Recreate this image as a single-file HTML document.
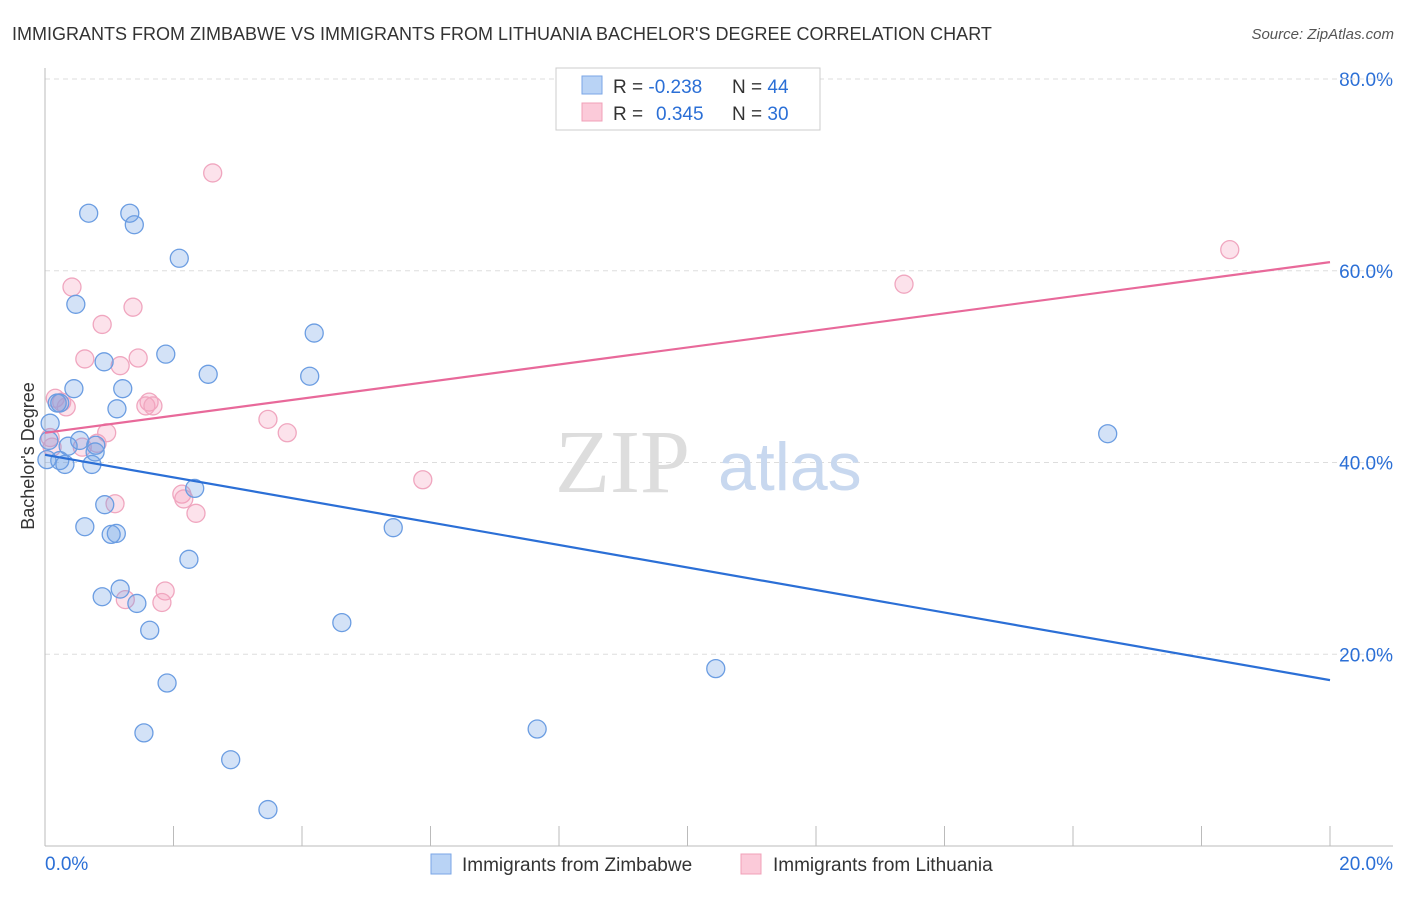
<!DOCTYPE html>
<html><head><meta charset="utf-8"><style>
body{margin:0;background:#fff;font-family:"Liberation Sans",sans-serif}
</style></head><body>
<svg width="1406" height="892" xmlns="http://www.w3.org/2000/svg" style="font-family:'Liberation Sans',sans-serif">
<text x="12" y="40" font-size="18" fill="#333">IMMIGRANTS FROM ZIMBABWE VS IMMIGRANTS FROM LITHUANIA BACHELOR'S DEGREE CORRELATION CHART</text>
<text x="1394" y="39" font-size="15" fill="#555" font-style="italic" text-anchor="end">Source: ZipAtlas.com</text>
<g id="grid"></g>
<g id="axes"></g>
<text x="555" y="492" font-size="90" fill="#ddd" font-family="Liberation Serif,serif">ZIP</text>
<text x="718" y="490" font-size="68" fill="#c8d8ef">atlas</text>
<g id="pts"></g>
<g id="lines"></g>
<text transform="translate(34,456) rotate(-90)" font-size="18" fill="#333" text-anchor="middle">Bachelor's Degree</text>
<g>
<rect x="556" y="68" width="264" height="62" fill="#fff" stroke="#ccc"/>
<rect x="582" y="76" width="20" height="18" fill="#b9d3f5" stroke="#7aa6e6"/>
<rect x="582" y="103" width="20" height="18" fill="#fbcad9" stroke="#f0a0b8"/>
<text x="613" y="93" font-size="19" fill="#333">R = <tspan fill="#2b6fd6">-0.238</tspan><tspan x="732">N = </tspan><tspan fill="#2b6fd6">44</tspan></text>
<text x="613" y="120" font-size="19" fill="#333">R = <tspan fill="#2b6fd6" x="656">0.345</tspan><tspan x="732">N = </tspan><tspan fill="#2b6fd6">30</tspan></text>
</g>
<g>
<rect x="431" y="854" width="20" height="20" fill="#b9d3f5" stroke="#7aa6e6"/>
<text x="462" y="871" font-size="19" fill="#333">Immigrants from Zimbabwe</text>
<rect x="741" y="854" width="20" height="20" fill="#fbcad9" stroke="#f0a0b8"/>
<text x="773" y="871" font-size="19" fill="#333">Immigrants from Lithuania</text>
</g>
</svg>
<script>
const yTicks=[20,40,60,80];
const yTickLabels=["20.0%","40.0%","60.0%","80.0%"];
const xTickLabels=["0.0%","20.0%"];
const blueX=[0.68,1.32,1.39,2.09,0.48,4.19,1.88,0.92,2.54,4.12,0.45,1.21,0.19,0.23,1.12,0.08,0.54,0.36,0.79,0.78,0.03,0.23,0.31,0.73,16.54,2.33,0.93,0.62,5.42,1.03,1.11,2.24,1.17,0.89,1.43,1.63,4.62,1.90,10.44,1.54,7.66,2.89,3.47,0.06];
const blueY=[66.0,66.0,64.8,61.3,56.5,53.5,51.3,50.5,49.2,49.0,47.7,47.7,46.2,46.2,45.6,44.1,42.3,41.7,41.8,41.1,40.3,40.2,39.8,39.8,43.0,37.3,35.6,33.3,33.2,32.5,32.6,29.9,26.8,26.0,25.3,22.5,23.3,17.0,18.5,11.8,12.2,9.0,3.8,42.3];
const pinkX=[2.61,0.42,1.37,0.89,0.62,1.45,1.17,0.16,0.26,0.33,1.62,1.57,1.68,3.47,3.77,0.96,0.08,0.11,0.58,0.81,5.88,2.13,2.16,2.35,1.09,1.87,1.82,1.25,13.37,18.44];
const pinkY=[70.2,58.3,56.2,54.4,50.8,50.9,50.1,46.7,46.3,45.8,46.3,45.9,45.9,44.5,43.1,43.1,42.6,41.6,41.6,42.0,38.2,36.7,36.2,34.7,35.7,26.6,25.4,25.7,58.6,62.2];
const blueTrend=[40.8,17.3];
const pinkTrend=[43.1,60.9];
const X=v=>45+v/20*1285, Y=v=>846-v/20*191.75;
const NS="http://www.w3.org/2000/svg";
function mk(p,t,a){const e=document.createElementNS(NS,t);for(const k in a)e.setAttribute(k,a[k]);document.getElementById(p).appendChild(e);return e;}
yTicks.forEach((t,i)=>{
 const l=mk('grid','line',{x1:45,x2:1393,y1:Y(t),y2:Y(t),stroke:'#ddd','stroke-dasharray':'5,4'});
 
 
 const tx=mk('grid','text',{x:1393,y:Y(t)+7,'font-size':19,fill:'#2b6fd6','text-anchor':'end'});
 tx.textContent=yTickLabels[i];
 
 
});
const tg=mk('grid','line',{x1:45,x2:1393,y1:79,y2:79,stroke:'#ddd','stroke-dasharray':'5,4'});
mk('axes','line',{x1:45,x2:45,y1:68,y2:846,stroke:'#bbb'});
mk('axes','line',{x1:45,x2:1393,y1:846,y2:846,stroke:'#bbb'});
for(let i=0;i<=10;i++){mk('axes','line',{x1:X(i*2),x2:X(i*2),y1:826,y2:846,stroke:'#bbb'});}
xTickLabels.forEach((s,i)=>{const t=mk('axes','text',{x:i?1393:45,y:870,'font-size':19,fill:'#2b6fd6','text-anchor':i?'end':'start'});t.textContent=s;
 
 });
pinkX.forEach((x,i)=>{const c=mk('pts','circle',{cx:X(x),cy:Y(pinkY[i]),r:9,fill:'rgba(245,160,190,0.3)',stroke:'#f0a6bf','stroke-width':1.3});
 
 });
blueX.forEach((x,i)=>{const c=mk('pts','circle',{cx:X(x),cy:Y(blueY[i]),r:9,fill:'rgba(110,160,230,0.3)',stroke:'#6b9de2','stroke-width':1.3});
 
 });
const bl=mk('lines','line',{x1:X(0),y1:Y(blueTrend[0]),x2:X(20),y2:Y(blueTrend[1]),stroke:'#2b6fd6','stroke-width':2.2});


const pl=mk('lines','line',{x1:X(0),y1:Y(pinkTrend[0]),x2:X(20),y2:Y(pinkTrend[1]),stroke:'#e8699a','stroke-width':2.2});


</script>
</body></html>
